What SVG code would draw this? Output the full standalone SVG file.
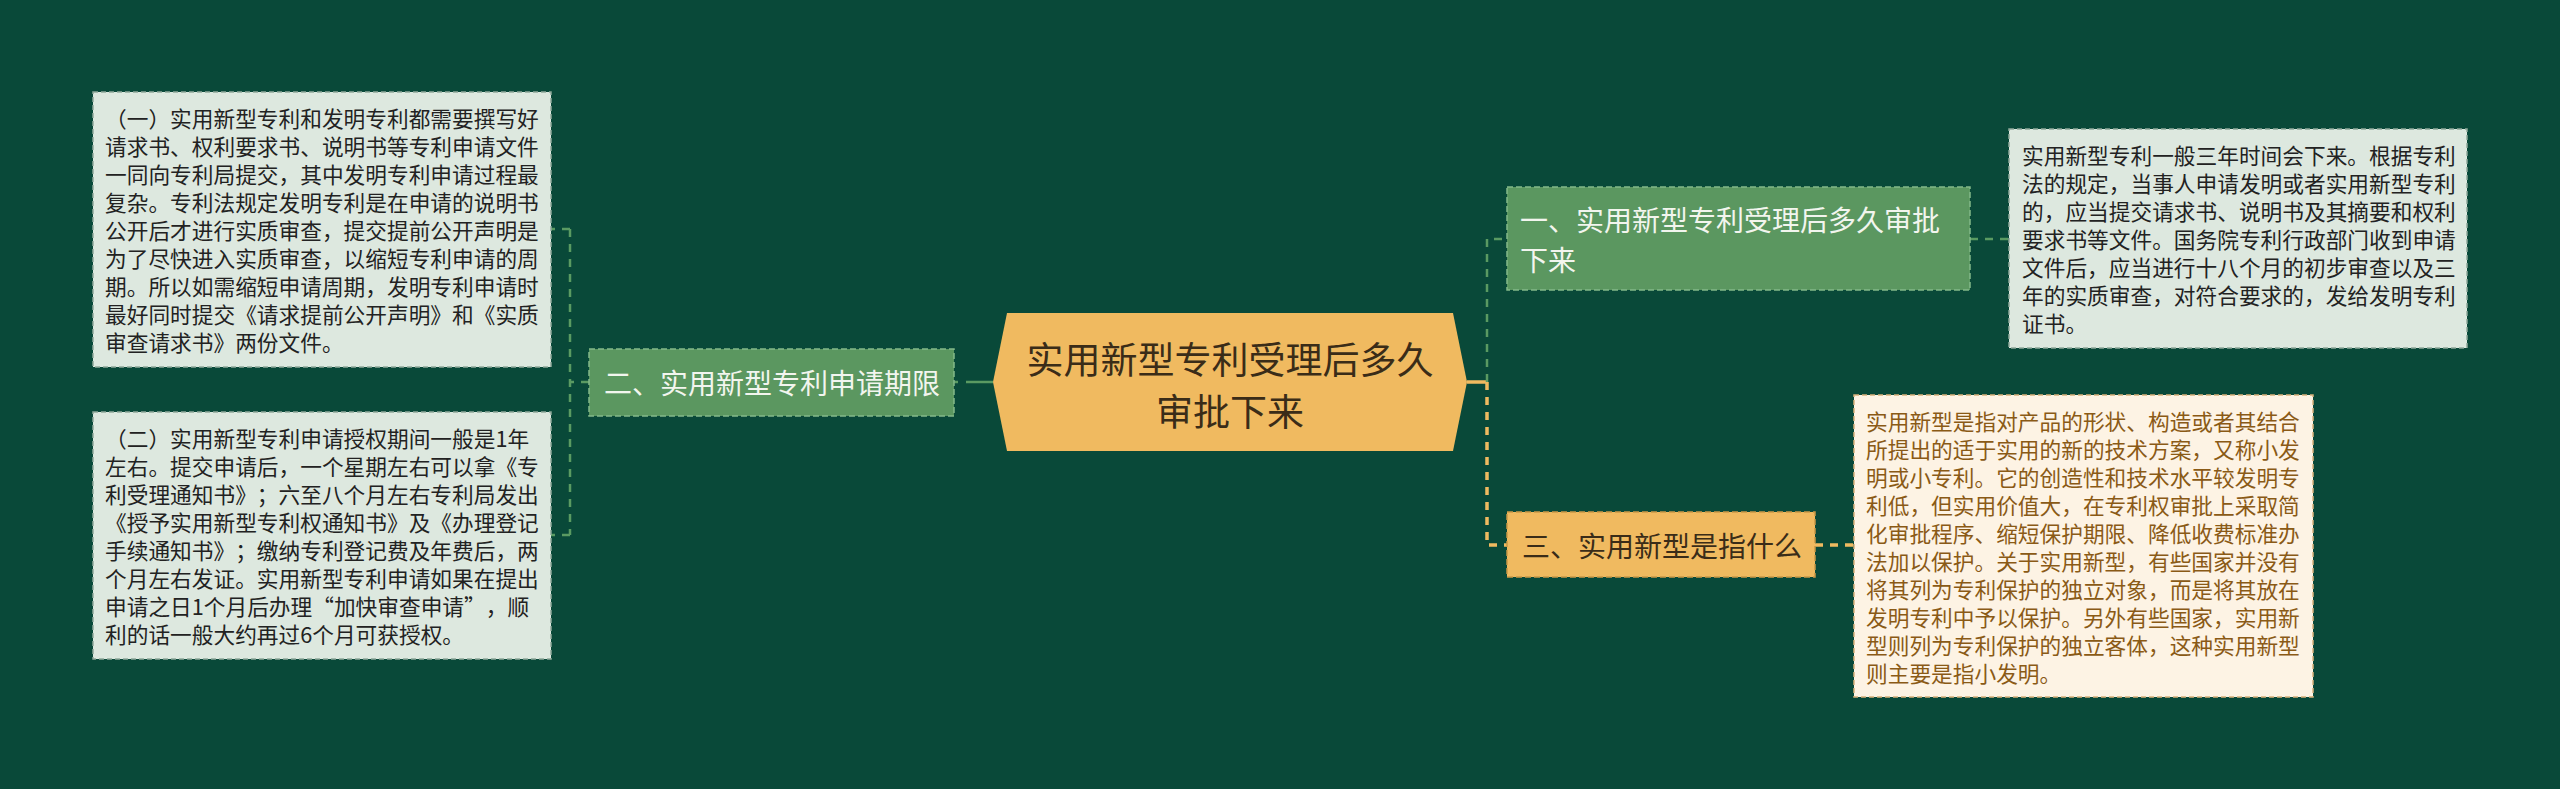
<svg xmlns="http://www.w3.org/2000/svg" width="2560" height="789" viewBox="0 0 2560 789">
<style>
text{font-family:"Noto Sans CJK SC","Noto Sans",sans-serif;dominant-baseline:central;text-spacing-trim:space-all;font-feature-settings:"chws" 0,"halt" 0}
.desc{font-size:21.7px;fill:#222}
.descY{font-size:21.7px;fill:#8a5a16}
.lbl{font-size:28px}
.boxG{fill:#dde8df;stroke:#8fa89a;stroke-width:1.5;stroke-dasharray:5 3}
.boxY{fill:#fdf3e4;stroke:#d6b07a;stroke-width:1.5;stroke-dasharray:5 3}
.nodeG{fill:#5b9760;stroke:#84b989;stroke-width:1.5;stroke-dasharray:6 3}
.nodeY{fill:#f0ba60;stroke:#c99846;stroke-width:1.5;stroke-dasharray:6 3}
.cg{fill:none;stroke:#5a9a62;stroke-width:2.5;stroke-dasharray:8 7}
.cy{fill:none;stroke:#f0ba60;stroke-width:3.5;stroke-dasharray:8 7}
</style>
<rect x="0" y="0" width="2560" height="789" fill="#094939"/>
<g id="connectors">
<path class="cg" d="M993,382 H954" style="stroke-dasharray:27 8"/>
<path class="cg" d="M589,382 H570 M570,229 V535 M570,229 H551 M570,535 H551"/>
<path d="M1467,382 H1487" fill="none" stroke="#f0ba60" stroke-width="3.5"/>
<path class="cg" d="M1487,382 V239 H1507"/>
<path class="cy" d="M1487,382 V545 H1507"/>
<path class="cg" d="M1970,239 H2009"/>
<path class="cy" d="M1815,545 H1854"/>
</g>
<g id="center">
<polygon points="993,382 1007,313 1453,313 1467,382 1453,451 1007,451" fill="#f0ba60"/>
<text x="1230" y="358" text-anchor="middle" font-size="37" fill="#3a2c18">实用新型专利受理后多久</text>
<text x="1230" y="410" text-anchor="middle" font-size="37" fill="#3a2c18">审批下来</text>
</g>
<g id="node-er">
<rect class="nodeG" x="589" y="349" width="365" height="67"/>
<text class="lbl" x="604" y="382" fill="#f2f5ee">二、实用新型专利申请期限</text>
</g>
<g id="node-yi">
<rect class="nodeG" x="1507" y="187" width="463" height="103"/>
<text class="lbl" x="1520" y="219" fill="#f2f5ee">一、实用新型专利受理后多久审批</text>
<text class="lbl" x="1520" y="259" fill="#f2f5ee">下来</text>
</g>
<g id="node-san">
<rect class="nodeY" x="1507" y="512" width="308" height="65"/>
<text class="lbl" x="1522" y="545" fill="#3a2c18">三、实用新型是指什么</text>
</g>
<g id="desc-l1">
<rect class="boxG" x="93" y="92" width="458" height="275"/>
<text class="desc" x="105" y="117">（一）实用新型专利和发明专利都需要撰写好</text>
<text class="desc" x="105" y="145.1">请求书、权利要求书、说明书等专利申请文件</text>
<text class="desc" x="105" y="173.2">一同向专利局提交，其中发明专利申请过程最</text>
<text class="desc" x="105" y="201.3">复杂。专利法规定发明专利是在申请的说明书</text>
<text class="desc" x="105" y="229.4">公开后才进行实质审查，提交提前公开声明是</text>
<text class="desc" x="105" y="257.5">为了尽快进入实质审查，以缩短专利申请的周</text>
<text class="desc" x="105" y="285.6">期。所以如需缩短申请周期，发明专利申请时</text>
<text class="desc" x="105" y="313.7">最好同时提交《请求提前公开声明》和《实质</text>
<text class="desc" x="105" y="341.8">审查请求书》两份文件。</text>
</g>
<g id="desc-l2">
<rect class="boxG" x="93" y="412" width="458" height="247"/>
<text class="desc" x="105" y="437">（二）实用新型专利申请授权期间一般是1年</text>
<text class="desc" x="105" y="465.1">左右。提交申请后，一个星期左右可以拿《专</text>
<text class="desc" x="105" y="493.2">利受理通知书》；六至八个月左右专利局发出</text>
<text class="desc" x="105" y="521.3">《授予实用新型专利权通知书》及《办理登记</text>
<text class="desc" x="105" y="549.4">手续通知书》；缴纳专利登记费及年费后，两</text>
<text class="desc" x="105" y="577.5">个月左右发证。实用新型专利申请如果在提出</text>
<text class="desc" x="105" y="605.6">申请之日1个月后办理“加快审查申请”，顺</text>
<text class="desc" x="105" y="633.7">利的话一般大约再过6个月可获授权。</text>
</g>
<g id="desc-r1">
<rect class="boxG" x="2009" y="129" width="458" height="219"/>
<text class="desc" x="2022" y="154">实用新型专利一般三年时间会下来。根据专利</text>
<text class="desc" x="2022" y="182.1">法的规定，当事人申请发明或者实用新型专利</text>
<text class="desc" x="2022" y="210.2">的，应当提交请求书、说明书及其摘要和权利</text>
<text class="desc" x="2022" y="238.3">要求书等文件。国务院专利行政部门收到申请</text>
<text class="desc" x="2022" y="266.4">文件后，应当进行十八个月的初步审查以及三</text>
<text class="desc" x="2022" y="294.5">年的实质审查，对符合要求的，发给发明专利</text>
<text class="desc" x="2022" y="322.6">证书。</text>
</g>
<g id="desc-r3">
<rect class="boxY" x="1854" y="395" width="459" height="302"/>
<text class="descY" x="1866" y="420">实用新型是指对产品的形状、构造或者其结合</text>
<text class="descY" x="1866" y="448.1">所提出的适于实用的新的技术方案，又称小发</text>
<text class="descY" x="1866" y="476.2">明或小专利。它的创造性和技术水平较发明专</text>
<text class="descY" x="1866" y="504.3">利低，但实用价值大，在专利权审批上采取简</text>
<text class="descY" x="1866" y="532.4">化审批程序、缩短保护期限、降低收费标准办</text>
<text class="descY" x="1866" y="560.5">法加以保护。关于实用新型，有些国家并没有</text>
<text class="descY" x="1866" y="588.6">将其列为专利保护的独立对象，而是将其放在</text>
<text class="descY" x="1866" y="616.7">发明专利中予以保护。另外有些国家，实用新</text>
<text class="descY" x="1866" y="644.8">型则列为专利保护的独立客体，这种实用新型</text>
<text class="descY" x="1866" y="672.9">则主要是指小发明。</text>
</g>
</svg>
